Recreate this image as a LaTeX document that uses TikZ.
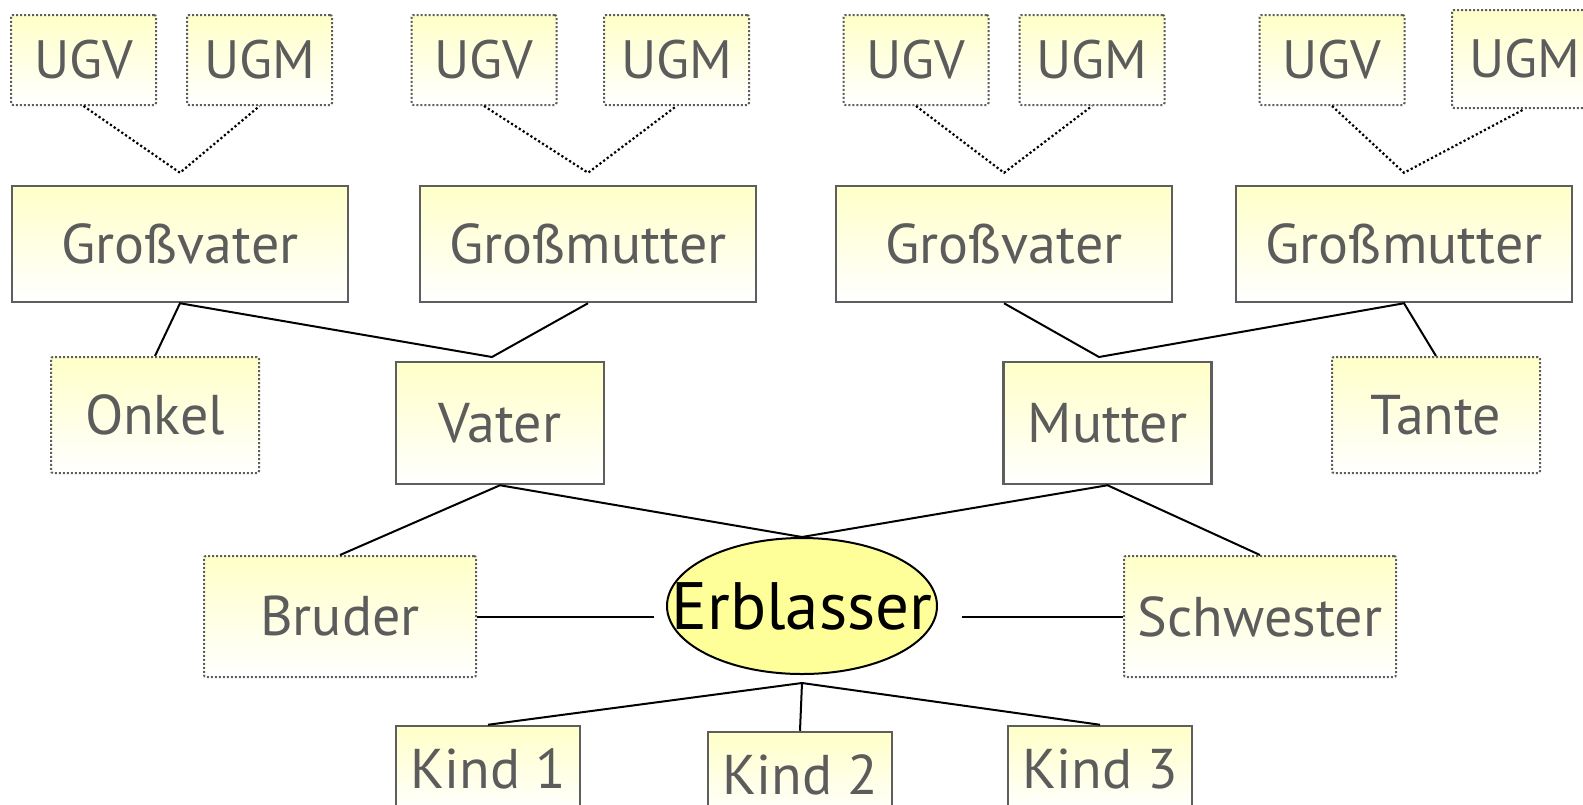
\documentclass[tikz,border=0pt]{standalone}
\usepackage{fontspec}
\setmainfont{PT Sans}
\usetikzlibrary{shapes.geometric}
\definecolor{boxline}{HTML}{5E5E5E}
\definecolor{boxtext}{HTML}{5C5C5C}
\definecolor{paleyellow}{HTML}{FFFFC8}
\definecolor{deceased}{HTML}{FFFF99}

\begin{document}
\begin{tikzpicture}[x=1pt, y=-1pt]
            \tikzset{person/.style={draw=boxline, line width=2.5pt, top color=paleyellow, bottom color=white, text=boxtext, inner sep=0pt, font={\fontsize{56}{60}\selectfont}}};
            \tikzset{relative/.style={person, draw=boxline, line width=2pt, dash pattern=on 2pt off 2pt, rounded corners=2pt}};
            \tikzset{link/.style={black, line width=2pt}};
            \tikzset{ancestor link/.style={black, line width=2.2pt, dash pattern=on 2.2pt off 2.4pt}};
            \useasboundingbox (0, 0) rectangle (1583, 804);
            % Urgrosseltern
            \begin{scope}[every node/.style={relative, minimum width=145pt, minimum height=90pt, font={\fontsize{54}{58}\selectfont}}]
            \node (ugv1) at (83.5, 60) {UGV};
            \node (ugm1) at (259.5, 60) {UGM};
            \node (ugv2) at (484, 60) {UGV};
            \node (ugm2) at (676.5, 60) {UGM};
            \node (ugv3) at (916, 60) {UGV};
            \node (ugm3) at (1092, 60) {UGM};
            \node (ugv4) at (1332, 60) {UGV};
            \node[minimum height=98pt] (ugm4) at (1524.5, 59) {UGM};
            \end{scope}
            % Grosseltern
            \node[person, minimum width=336pt, minimum height=116pt] (gv1) at (180, 244) {Großvater};
            \node[person, minimum width=336pt, minimum height=116pt] (gm1) at (588, 244) {Großmutter};
            \node[person, minimum width=336pt, minimum height=116pt] (gv2) at (1004, 244) {Großvater};
            \node[person, minimum width=336pt, minimum height=116pt] (gm2) at (1404, 244) {Großmutter};
            \coordinate (j1) at ([yshift=12pt]gv1.north);
            \coordinate (j2) at ([yshift=12pt]gm1.north);
            \coordinate (j3) at ([yshift=12pt]gv2.north);
            \coordinate (j4) at ([yshift=12pt]gm2.north);
            \draw[ancestor link] (ugv1.south) -- (j1) -- (ugm1.south);
            \draw[ancestor link] (ugv2.south) -- (j2) -- (ugm2.south);
            \draw[ancestor link] (ugv3.south) -- (j3) -- (ugm3.south);
            \draw[ancestor link] (ugv4.south) -- (j4) -- (ugm4.south);
            % Eltern, Onkel und Tante
            \node[relative, minimum width=208pt, minimum height=116pt] (onkel) at (155, 415) {Onkel};
            \node[person, minimum width=208pt, minimum height=122pt] (vater) at (500, 423) {Vater};
            \node[person, minimum width=208pt, minimum height=122pt] (mutter) at (1107.5, 423) {Mutter};
            \node[relative, minimum width=208pt, minimum height=116pt] (tante) at (1436, 415) {Tante};
            \coordinate (vj) at (492, 357);
            \coordinate (mj) at (1099, 357);
            \draw[link] (onkel.north) -- (gv1.south) -- (vj) -- (gm1.south);
            \draw[link] (gv2.south) -- (mj) -- (gm2.south) -- (tante.north);
            % Erblasser und Geschwister
            \node[ellipse, draw=black, line width=2pt, fill=deceased, minimum width=270pt, minimum height=136pt, inner xsep=-40pt, inner ysep=0pt, font={\fontsize{67}{70}\selectfont}] (erbl) at (802, 606) {Erblasser};
            \node[relative, minimum width=272pt, minimum height=121pt] (bruder) at (340, 616.5) {Bruder};
            \node[relative, minimum width=272pt, minimum height=121pt] (schwester) at (1260, 616.5) {Schwester};
            \draw[link] (bruder.north) -- (vater.south) -- (erbl.north) -- (mutter.south) -- (schwester.north);
            \draw[link, shorten >=12pt] (bruder.east) -- (bruder.east -| erbl.west);
            \draw[link, shorten >=24pt] (schwester.west) -- (schwester.west -| erbl.east);
            % Kinder
            \node[person, minimum width=184pt, minimum height=86pt] (kind1) at (488, 769) {Kind 1};
            \node[person, minimum width=184pt, minimum height=86pt] (kind2) at (800, 775) {Kind 2};
            \node[person, minimum width=184pt, minimum height=86pt] (kind3) at (1100, 769) {Kind 3};
            \coordinate (kj) at ([yshift=-8pt]erbl.south);
            \draw[link] (kind1.north) -- (kj) -- (kind3.north);
            \draw[link] (kj) -- (kind2.north);
\end{tikzpicture}
\end{document}
